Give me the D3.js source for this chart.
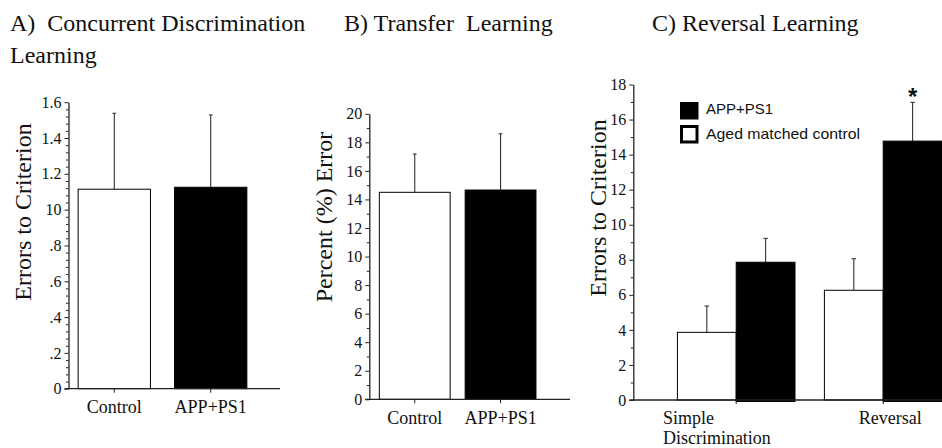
<!DOCTYPE html>
<html>
<head>
<meta charset="utf-8">
<script src="https://cdn.jsdelivr.net/npm/d3@7"></script>
<style>
  html, body { margin: 0; padding: 0; background: #fff; }
  svg { display: block; }
</style>
</head>
<body>
<svg id="fig" width="942" height="448"></svg>
<script>
// ---- Data -------------------------------------------------------------
// A) Concurrent discrimination learning: errors to criterion (mean, SEM)
const concurrentGroups = ["Control", "APP+PS1"];
const concurrentMean = [1.114, 1.125];
const concurrentSem = [0.424, 0.404];
const concurrentTickValues = [0, 0.2, 0.4, 0.6, 0.8, 1.0, 1.2, 1.4, 1.6];
const concurrentTickLabels = ["0", ".2", ".4", ".6", ".8", "10", "1.2", "1.4", "1.6"];

// B) Transfer learning: percent error (mean, SEM)
const transferGroups = ["Control", "APP+PS1"];
const transferMean = [14.5, 14.66];
const transferSem = [2.68, 3.94];
const transferTickValues = [0, 2, 4, 6, 8, 10, 12, 14, 16, 18, 20];

// C) Reversal learning: errors to criterion by phase (mean, SEM)
const reversalPhases = ["Simple Discrimination", "Reversal"];
const reversalSeries = ["Aged matched control", "APP+PS1"];
const controlMean = [3.86, 6.26];
const controlSem = [1.50, 1.80];
const appMean = [7.86, 14.77];
const appSem = [1.36, 2.21];
const reversalTickValues = [0, 2, 4, 6, 8, 10, 12, 14, 16, 18];
const significantPhases = ["Reversal"];   // APP+PS1 differs from controls

// ---- Drawing ----------------------------------------------------------
const SERIF = "'Liberation Serif', 'Times New Roman', Times, serif";
const SANS = "'Liberation Sans', Arial, Helvetica, sans-serif";
const svg = d3.select("#fig");
const axisColor = "#222";
const errColor = "#333";

function styleAxis(g) {
  g.attr("font-family", SERIF);
  g.selectAll("path.domain").attr("stroke", axisColor).attr("stroke-width", 1.3);
  g.selectAll(".tick line").attr("stroke", axisColor);
  g.selectAll(".tick text").attr("font-family", SERIF).attr("fill", "#111");
}

function yAxis(g, y, values, labels, minorStep, fontSize) {
  const [d0, d1] = y.domain();
  const minors = d3.range(d0, d1 + 1e-9, minorStep).filter(v => !values.some(m => Math.abs(m - v) < 1e-9));
  g.append("g")
    .call(d3.axisLeft(y).tickValues(minors).tickSize(2.5).tickFormat(""))
    .call(a => a.select(".domain").remove())
    .call(styleAxis);
  const ax = g.append("g")
    .call(d3.axisLeft(y).tickValues(values).tickSize(4).tickSizeOuter(0).tickPadding(3)
      .tickFormat((d, i) => labels ? labels[i] : d3.format("d")(d)))
    .call(styleAxis);
  ax.selectAll(".tick text").attr("font-size", fontSize);
}

function errorBar(g, cx, yTop, yBase, cap) {
  g.append("line").attr("x1", cx).attr("x2", cx).attr("y1", yBase).attr("y2", yTop)
    .attr("stroke", errColor).attr("stroke-width", 1.1);
  g.append("line").attr("x1", cx - cap).attr("x2", cx + cap).attr("y1", yTop).attr("y2", yTop)
    .attr("stroke", errColor).attr("stroke-width", 1.1);
}

function yTitle(text, x, yc, size) {
  svg.append("text").attr("font-family", SERIF).attr("fill", "#111")
    .attr("transform", `translate(${x},${yc}) rotate(-90)`)
    .attr("text-anchor", "middle").attr("font-size", size)
    .text(text);
}

// Simple two-bar panel (A and B)
function twoBarPanel(opts) {
  const g = svg.append("g");
  const y = d3.scaleLinear().domain(opts.domain).range([opts.yZero, opts.yTop]);
  const x = d3.scaleBand().domain(opts.groups).range([opts.x0, opts.barEnd])
    .paddingInner(opts.padInner).paddingOuter(opts.padOuter);
  const fills = ["#fff", "#000"];

  opts.groups.forEach((grp, i) => {
    const cx = x(grp) + x.bandwidth() / 2;
    errorBar(g, cx, y(opts.mean[i] + opts.sem[i]), y(opts.mean[i]), 1.8);
  });
  g.selectAll("rect.bar").data(opts.groups).join("rect")
    .attr("class", "bar")
    .attr("x", d => x(d)).attr("width", x.bandwidth())
    .attr("y", (d, i) => y(opts.mean[i]))
    .attr("height", (d, i) => opts.yZero - y(opts.mean[i]))
    .attr("fill", (d, i) => fills[i])
    .attr("stroke", "#000").attr("stroke-width", 1);

  // baseline and category axis
  const xa = g.append("g").attr("transform", `translate(0,${opts.yZero})`)
    .call(d3.axisBottom(x).tickSize(4).tickSizeOuter(0).tickPadding(8))
    .call(a => a.select(".domain").remove())
    .call(styleAxis);
  xa.selectAll(".tick text").attr("font-size", 18);
  g.append("line").attr("x1", opts.x0 - 4).attr("x2", opts.xEnd)
    .attr("y1", opts.yZero).attr("y2", opts.yZero)
    .attr("stroke", axisColor).attr("stroke-width", 1.3);

  const ya = g.append("g").attr("transform", `translate(${opts.x0},0)`);
  yAxis(ya, y, opts.ticks, opts.tickLabels, opts.minor, 16);
  return { x, y };
}

// A) Concurrent discrimination
twoBarPanel({
  groups: concurrentGroups, mean: concurrentMean, sem: concurrentSem,
  domain: [0, 1.6], yZero: 388.7, yTop: 102.2,
  x0: 68.5, barEnd: 256.5, xEnd: 280, padInner: 0.25, padOuter: 0.1,
  ticks: concurrentTickValues, tickLabels: concurrentTickLabels, minor: 0.04
});
yTitle("Errors to Criterion", 31, 212, 24);

// B) Transfer learning
twoBarPanel({
  groups: transferGroups, mean: transferMean, sem: transferSem,
  domain: [0, 20], yZero: 399.3, yTop: 113.8,
  x0: 369.3, barEnd: 546, xEnd: 570, padInner: 0.175, padOuter: 0.117,
  ticks: transferTickValues, tickLabels: null, minor: 1
});
yTitle("Percent (%) Error", 332, 217, 24);

// C) Reversal learning (grouped bars)
(function () {
  const g = svg.append("g");
  const yZero = 400, yTop = 84.5, x0 = 633.3, xEnd = 942;
  const y = d3.scaleLinear().domain([0, 18]).range([yZero, yTop]);
  const x = d3.scaleBand().domain(reversalPhases).range([x0, xEnd])
    .paddingInner(0.2).paddingOuter(0.15).align(1);
  const xs = d3.scaleBand().domain(reversalSeries).range([0, x.bandwidth()]);
  const color = d3.scaleOrdinal().domain(reversalSeries).range(["#fff", "#000"]);

  const rows = [];
  reversalPhases.forEach((p, i) => {
    rows.push({ phase: p, series: reversalSeries[0], mean: controlMean[i], sem: controlSem[i] });
    rows.push({ phase: p, series: reversalSeries[1], mean: appMean[i], sem: appSem[i] });
  });

  rows.forEach(r => {
    const cx = x(r.phase) + xs(r.series) + xs.bandwidth() / 2;
    errorBar(g, cx, y(r.mean + r.sem), y(r.mean), 2.2);
  });
  g.selectAll("rect.bar").data(rows).join("rect")
    .attr("class", "bar")
    .attr("x", d => x(d.phase) + xs(d.series))
    .attr("width", xs.bandwidth())
    .attr("y", d => y(d.mean))
    .attr("height", d => (d.series === reversalSeries[1] ? yZero + 1.5 : yZero) - y(d.mean))
    .attr("fill", d => color(d.series))
    .attr("stroke", "#000").attr("stroke-width", 1);

  // significance marker
  rows.filter(r => r.series === reversalSeries[1] && significantPhases.includes(r.phase))
    .forEach(r => {
      g.append("text").attr("font-family", SANS).attr("fill", "#111")
        .attr("x", x(r.phase) + xs(r.series) + xs.bandwidth() / 2)
        .attr("y", y(r.mean + r.sem) + 3)
        .attr("text-anchor", "middle").attr("font-size", 24).attr("font-weight", "bold")
        .text("*");
    });

  // baseline with ticks at group centres
  g.append("g").attr("transform", `translate(0,${yZero})`)
    .call(d3.axisBottom(x).tickSize(4).tickSizeOuter(0).tickFormat(""))
    .call(a => a.select(".domain").remove())
    .call(styleAxis);
  g.append("line").attr("x1", x0 - 4).attr("x2", xEnd)
    .attr("y1", yZero).attr("y2", yZero)
    .attr("stroke", axisColor).attr("stroke-width", 1.5);

  // category labels
  const first = reversalPhases[0].split(" ");
  const lx = x(reversalPhases[0]) - 14.5;
  const t1 = g.append("text").attr("font-family", SERIF).attr("fill", "#111")
    .attr("font-size", 18).attr("x", lx).attr("y", yZero + 24);
  first.forEach((w, i) => t1.append("tspan").attr("x", lx).attr("dy", i ? 20 : 0).text(w));
  g.append("text").attr("font-family", SERIF).attr("fill", "#111").attr("font-size", 18)
    .attr("x", x(reversalPhases[1]) + x.bandwidth() / 2 + 7).attr("y", yZero + 24)
    .attr("text-anchor", "middle").text(reversalPhases[1]);

  const ya = g.append("g").attr("transform", `translate(${x0},0)`);
  yAxis(ya, y, reversalTickValues, null, 1, 16);

  // legend
  const lg = g.append("g").attr("transform", "translate(680,102)");
  lg.append("rect").attr("x", 0).attr("y", 0).attr("width", 18.5).attr("height", 17.5).attr("fill", "#000");
  lg.append("text").attr("font-family", SANS).attr("fill", "#111")
    .attr("x", 26).attr("y", 12).attr("font-size", 15).text(reversalSeries[1]);
  lg.append("rect").attr("x", 1.5).attr("y", 24.5).attr("width", 15.5).attr("height", 15.5)
    .attr("fill", "#fff").attr("stroke", "#000").attr("stroke-width", 3);
  lg.append("text").attr("font-family", SANS).attr("fill", "#111")
    .attr("x", 26).attr("y", 37).attr("font-size", 15)
    .attr("textLength", 154).attr("lengthAdjust", "spacingAndGlyphs").text(reversalSeries[0]);
})();
yTitle("Errors to Criterion", 606, 208, 24);

// ---- Panel titles -----------------------------------------------------
const titles = [
  { lines: ["A)\u00a0\u00a0Concurrent Discrimination", "Learning"], x: 10 },
  { lines: ["B) Transfer\u00a0\u00a0Learning"], x: 344 },
  { lines: ["C) Reversal Learning"], x: 652 }
];
titles.forEach(t => {
  t.lines.forEach((l, i) => {
    svg.append("text").attr("font-family", SERIF).attr("fill", "#111")
      .attr("x", t.x).attr("y", 31 + i * 32)
      .attr("font-size", 24).text(l);
  });
});
</script>
</body>
</html>
